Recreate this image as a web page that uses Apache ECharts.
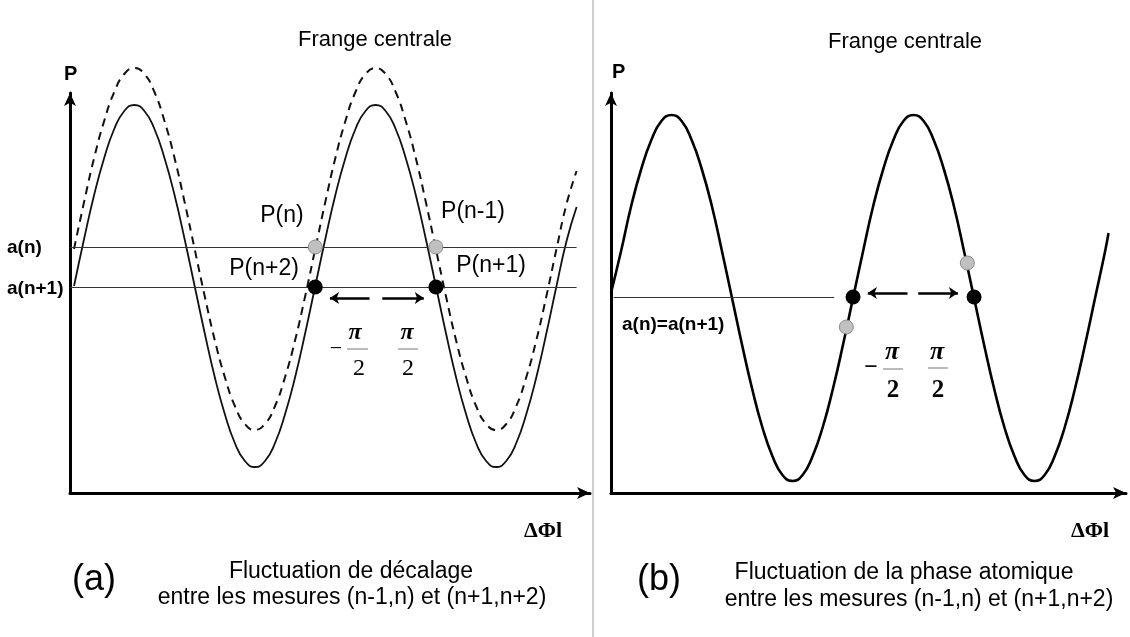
<!DOCTYPE html>
<html>
<head>
<meta charset="utf-8">
<script src="https://cdn.jsdelivr.net/npm/echarts@6/dist/echarts.min.js"></script>
<style>
  html, body { margin: 0; background: #fff; }
  #chart { width: 1130px; height: 637px; }
</style>
</head>
<body>
<div id="chart"></div>
<script>
// phase in degrees, 0 = frange centrale
const phaseA = [-450, -435, -420, -405, -390, -375, -360, -345, -330, -315, -300, -285, -270,
  -255, -240, -225, -210, -195, -180, -165, -150, -135, -120, -105, -90, -75, -60, -45, -30,
  -15, 0, 15, 30, 45, 60, 75, 90, 105, 120, 135, 150, 165, 180, 195, 210, 225, 240, 255,
  270, 285, 300]
const solidA = [2.07, 2.54, 2.98, 3.35, 3.64, 3.82, 3.88, 3.82, 3.64, 3.35, 2.98, 2.54, 2.07,
  1.60, 1.16, 0.79, 0.50, 0.32, 0.26, 0.32, 0.50, 0.79, 1.16, 1.60, 2.07, 2.54, 2.98, 3.35, 3.64,
  3.82, 3.88, 3.82, 3.64, 3.35, 2.98, 2.54, 2.07, 1.60, 1.16, 0.79, 0.50, 0.32, 0.26, 0.32,
  0.50, 0.79, 1.16, 1.60, 2.07, 2.52, 2.86]
const dashedA = [2.44, 2.91, 3.35, 3.72, 4.01, 4.19, 4.25, 4.19, 4.01, 3.72, 3.35, 2.91, 2.44,
  1.97, 1.53, 1.16, 0.87, 0.69, 0.63, 0.69, 0.87, 1.16, 1.53, 1.97, 2.44, 2.91, 3.35, 3.72, 4.01,
  4.19, 4.25, 4.19, 4.01, 3.72, 3.35, 2.91, 2.44, 1.97, 1.53, 1.16, 0.87, 0.69, 0.63, 0.69,
  0.87, 1.16, 1.53, 1.97, 2.44, 2.89, 3.22]
const phaseB = [-450, -435, -420, -405, -390, -375, -360, -345, -330, -315, -300, -285, -270,
  -255, -240, -225, -210, -195, -180, -165, -150, -135, -120, -105, -90, -75, -60, -45, -30,
  -15, 0, 15, 30, 45, 60, 75, 90, 105, 120, 135, 150, 165, 180, 195, 210, 225, 240, 255,
  270, 285, 290]
const curveB = [2.00, 2.42, 2.87, 3.24, 3.53, 3.72, 3.78, 3.72, 3.53, 3.24, 2.87, 2.42, 1.95,
  1.48, 1.04, 0.66, 0.37, 0.18, 0.12, 0.18, 0.37, 0.66, 1.04, 1.48, 1.95, 2.42, 2.87, 3.24, 3.53,
  3.72, 3.78, 3.72, 3.53, 3.24, 2.87, 2.42, 1.95, 1.48, 1.04, 0.66, 0.37, 0.18, 0.12, 0.18,
  0.37, 0.66, 1.04, 1.48, 1.95, 2.42, 2.60]

// mesures
const levelAn = 2.46
const levelAn1 = 2.06
const blackA = [[-90, 2.06], [90, 2.06]]
const greyA = [[-90, 2.46], [90, 2.46]]
const levelB = 1.96
const blackB = [[-90, 1.96], [90, 1.96]]
const greyB = [[-100, 1.66], [80, 2.30]]

const zip = (xs, ys) => xs.map((x, i) => [x, ys[i]])

const chart = echarts.init(document.getElementById('chart'))

const axisLine = {
  show: true,
  onZero: false,
  symbol: ['none', 'arrow'],
  symbolSize: [9, 13],
  lineStyle: { color: '#000', width: 3 }
}
const xAxisBase = {
  type: 'value', axisLine: axisLine, axisTick: { show: false },
  axisLabel: { show: false }, splitLine: { show: false }
}
const yAxisBase = {
  type: 'value', min: 0, max: 4, axisLine: axisLine, axisTick: { show: false },
  axisLabel: { show: false }, splitLine: { show: false }
}

function guide(x1, y1, x2, y2, style) {
  return [{ coord: [x1, y1], lineStyle: style }, { coord: [x2, y2] }]
}
const thin = { color: '#333', width: 1, type: 'solid' }
const greyLine = { color: '#8a8a8a', width: 1.5, type: 'solid' }
const arrowStyle = { color: '#000', width: 2.5, type: 'solid' }
const greyDot = { color: '#c0c0c0', borderColor: '#8c8c8c', borderWidth: 1, opacity: 1 }
const blackDot = { color: '#000', opacity: 1 }

function txt(text, x, y, font, align, extra) {
  return {
    type: 'text', silent: true,
    style: Object.assign({
      text: text, x: x, y: y, font: font, fill: '#000',
      textAlign: align || 'left', textVerticalAlign: 'middle',
      align: align || 'left', verticalAlign: 'middle'
    }, extra || {})
  }
}
function bar(x1, x2, y) {
  return { type: 'line', silent: true, shape: { x1: x1, y1: y, x2: x2, y2: y },
    style: { stroke: '#777', lineWidth: 1 } }
}

const sans = '"Liberation Sans", Arial, sans-serif'
const serif = '"Liberation Serif", "Times New Roman", serif'

chart.setOption({
  animation: false,
  backgroundColor: '#fff',
  grid: [
    { left: 70, top: 93, width: 520, bottom: 144 },
    { left: 611, top: 93, width: 515, bottom: 144 }
  ],
  xAxis: [
    Object.assign({ gridIndex: 0, min: -456, max: 320 }, xAxisBase),
    Object.assign({ gridIndex: 1, min: -450, max: 316 }, xAxisBase)
  ],
  yAxis: [
    Object.assign({ gridIndex: 0 }, yAxisBase),
    Object.assign({ gridIndex: 1 }, yAxisBase)
  ],
  series: [
    {
      type: 'line', xAxisIndex: 0, yAxisIndex: 0, data: zip(phaseA, dashedA),
      smooth: true, showSymbol: false, clip: false, silent: true,
      lineStyle: { color: '#111', width: 2, type: [8, 6] }
    },
    {
      type: 'line', xAxisIndex: 0, yAxisIndex: 0, data: zip(phaseA, solidA),
      smooth: true, showSymbol: false, clip: false, silent: true,
      lineStyle: { color: '#111', width: 1.8 },
      markLine: {
        silent: true, symbol: 'none', label: { show: false },
        data: [
          guide(-456, levelAn, 300, levelAn, thin),
          guide(-456, levelAn1, 300, levelAn1, thin),
          guide(0, 0.05, 0, 4.25, greyLine)
        ]
      }
    },
    {
      type: 'line', xAxisIndex: 0, yAxisIndex: 0, data: [],
      markLine: {
        silent: true, symbol: ['none', 'arrow'], symbolSize: 9, label: { show: false },
        data: [
          guide(-9, 1.95, -68, 1.95, arrowStyle),
          guide(10, 1.95, 72, 1.95, arrowStyle)
        ]
      }
    },
    {
      type: 'scatter', xAxisIndex: 0, yAxisIndex: 0, data: greyA, symbolSize: 14, silent: true,
      itemStyle: greyDot, z: 5
    },
    {
      type: 'scatter', xAxisIndex: 0, yAxisIndex: 0, data: blackA, symbolSize: 15, silent: true,
      itemStyle: blackDot, z: 5
    },
    {
      type: 'line', xAxisIndex: 1, yAxisIndex: 1, data: zip(phaseB, curveB),
      smooth: true, showSymbol: false, clip: false, silent: true,
      lineStyle: { color: '#000', width: 2.6 },
      markLine: {
        silent: true, symbol: 'none', label: { show: false },
        data: [
          guide(-446, levelB, -118, levelB, thin),
          guide(0, 0, 0, 4.24, { color: '#222', width: 1, type: 'solid' })
        ]
      }
    },
    {
      type: 'line', xAxisIndex: 1, yAxisIndex: 1, data: [],
      markLine: {
        silent: true, symbol: ['none', 'arrow'], symbolSize: 9, label: { show: false },
        data: [
          guide(-9, 2.0, -68, 2.0, arrowStyle),
          guide(7, 2.0, 66, 2.0, arrowStyle)
        ]
      }
    },
    {
      type: 'scatter', xAxisIndex: 1, yAxisIndex: 1, data: greyB, symbolSize: 14, silent: true,
      itemStyle: greyDot, z: 5
    },
    {
      type: 'scatter', xAxisIndex: 1, yAxisIndex: 1, data: blackB, symbolSize: 15, silent: true,
      itemStyle: blackDot, z: 5
    }
  ],
  graphic: [
    { type: 'line', silent: true, shape: { x1: 593, y1: 0, x2: 593, y2: 637 },
      style: { stroke: '#9a9a9a', lineWidth: 1 } },

    // (a)
    txt('Frange centrale', 375, 40, '22px ' + sans, 'center'),
    txt('P', 64, 74, 'bold 20px ' + sans),
    txt('a(n)', 7, 248, 'bold 19px ' + sans),
    txt('a(n+1)', 7, 289, 'bold 19px ' + sans),
    txt('P(n)', 282, 216, '23px ' + sans, 'center'),
    txt('P(n-1)', 473, 212, '23px ' + sans, 'center'),
    txt('P(n+2)', 264, 269, '23px ' + sans, 'center'),
    txt('P(n+1)', 491, 266, '23px ' + sans, 'center'),
    txt('\u2212', 336, 349, '22px ' + serif, 'center'),
    txt('\u03c0', 355, 333, 'italic bold 24px ' + serif, 'center'),
    bar(347, 368, 349),
    txt('2', 359, 369, '24px ' + serif, 'center'),
    txt('\u03c0', 407, 333, 'italic bold 24px ' + serif, 'center'),
    bar(398, 418, 349),
    txt('2', 408, 369, '24px ' + serif, 'center'),
    txt('\u0394\u03a6l', 543, 531, 'bold 22px ' + serif, 'center'),
    txt('(a)', 72, 580, '36px ' + sans),
    txt('Fluctuation de d\u00e9calage', 351, 572, '23px ' + sans, 'center'),
    txt('entre les mesures (n-1,n) et (n+1,n+2)', 352, 598, '23px ' + sans, 'center'),

    // (b)
    txt('Frange centrale', 905, 42, '22px ' + sans, 'center'),
    txt('P', 612, 72, 'bold 20px ' + sans),
    txt('a(n)=a(n+1)', 622, 325, 'bold 19px ' + sans),
    txt('\u2212', 871, 368, 'bold 24px ' + serif, 'center'),
    txt('\u03c0', 892, 352, 'italic bold 26px ' + serif, 'center'),
    bar(883, 903, 369),
    txt('2', 893, 391, 'bold 25px ' + serif, 'center'),
    txt('\u03c0', 937, 352, 'italic bold 26px ' + serif, 'center'),
    bar(928, 948, 368),
    txt('2', 938, 391, 'bold 25px ' + serif, 'center'),
    txt('\u0394\u03a6l', 1090, 531, 'bold 22px ' + serif, 'center'),
    txt('(b)', 637, 580, '36px ' + sans),
    txt('Fluctuation de la phase atomique', 904, 573, '23px ' + sans, 'center'),
    txt('entre les mesures (n-1,n) et (n+1,n+2)', 919, 600, '23px ' + sans, 'center')
  ]
})
</script>
</body>
</html>
